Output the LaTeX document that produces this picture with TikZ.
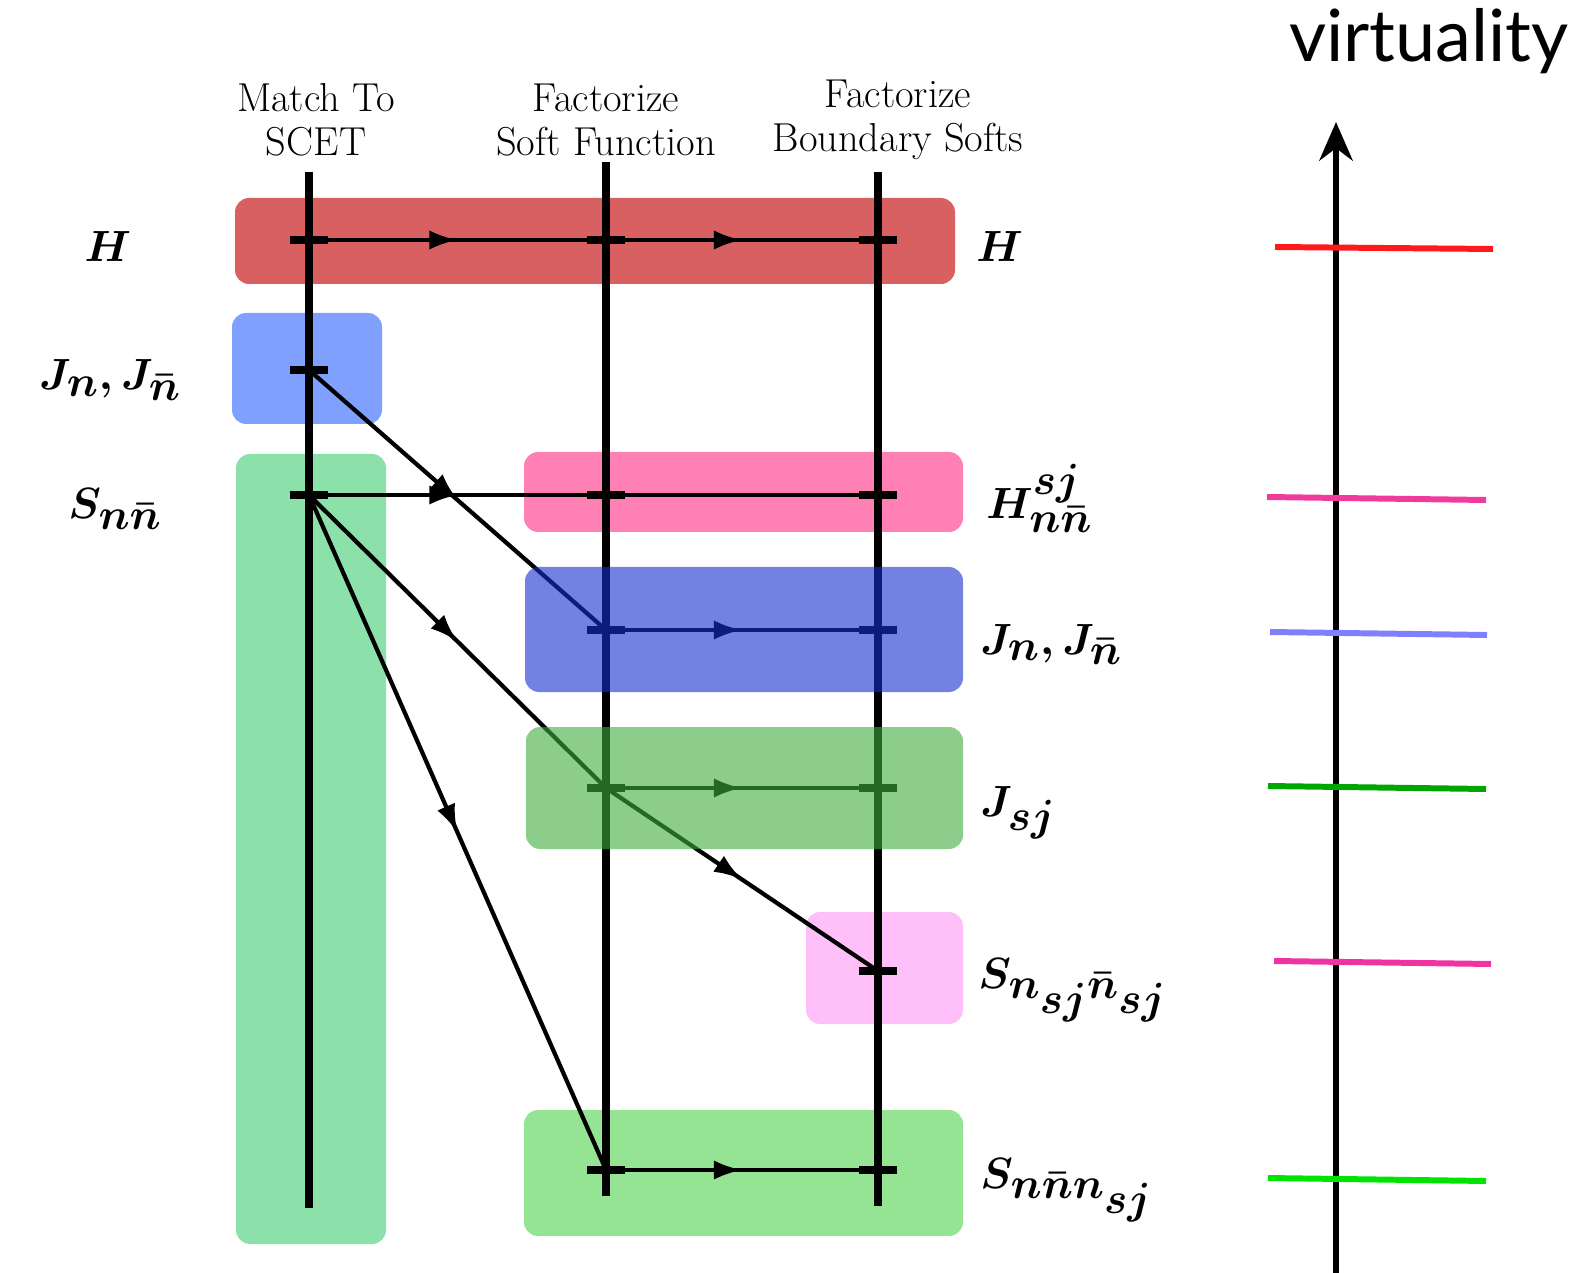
\documentclass[tikz,border=0pt]{standalone}
\usepackage{fontspec}
\newfontfamily\virtfont{Lato}
\DeclareMathSizes{44}{44}{36}{30}
\usepackage{tikz}
\usetikzlibrary{arrows.meta,decorations.markings}
\definecolor{hred}{RGB}{217,96,96}
\definecolor{jblue}{RGB}{128,160,255}
\definecolor{sgreen}{RGB}{140,225,170}
\definecolor{hpink}{RGB}{255,128,180}
\definecolor{jnblue}{RGB}{22,47,205}
\definecolor{jsgreen}{RGB}{63,172,63}
\definecolor{sspink}{RGB}{255,192,250}
\definecolor{sngreen}{RGB}{148,228,148}
\tikzset{
  box/.style      = {rounded corners=8pt},
  overbox/.style  = {rounded corners=8pt, fill opacity=0.6},
  stage/.style    = {line width=4pt, black},
  flow/.style     = {line width=2.4pt, black},
  tick/.style     = {line width=4pt, black},
  midarrow/.style = {flow, decoration={markings, mark=at position 0.5 with {\arrow{Latex[length=16pt,width=11pt]}}}, postaction={decorate}},
  hdr/.style      = {font=\fontsize{23}{25}\selectfont, align=center, inner sep=0pt},
  fac/.style      = {font=\fontsize{44}{48}\selectfont\boldmath, inner sep=0pt, anchor=base},
  facr/.style     = {fac, anchor=base west},
  axis/.style     = {line width=3.4pt, -{Stealth[length=22pt,width=19pt]}},
  level/.style    = {line width=3.4pt},
  virt/.style     = {font=\virtfont\fontsize{41}{44}\selectfont, inner sep=0pt},
}

\begin{document}
\begin{tikzpicture}[x=0.02cm,y=-0.02cm]
  \useasboundingbox (0,0) rectangle (1589,1273);

  % boxes under the lines
  \fill[box, hred]    (235,198) rectangle (955,284);
  \fill[box, jblue]   (232,313) rectangle (382,424);
  \fill[box, sgreen]  (236,454) rectangle (386,1244);
  \fill[box, hpink]   (524,452) rectangle (963,532);
  \fill[box, sspink]  (806,912) rectangle (963,1024);
  \fill[box, sngreen] (524,1110) rectangle (963,1236);

  % stages
  \coordinate (m0) at (309,172);  \coordinate (m1) at (309,1208);
  \coordinate (f0) at (606,162);  \coordinate (f1) at (606,1196);
  \coordinate (b0) at (878,172);  \coordinate (b1) at (878,1206);
  \draw[stage] (m0) -- (m1);
  \draw[stage] (f0) -- (f1);
  \draw[stage] (b0) -- (b1);

  \coordinate (hA) at (309,240);  \coordinate (hB) at (606,240);  \coordinate (hC) at (878,240);
  \coordinate (jA) at (309,370);
  \coordinate (sA) at (309,495);  \coordinate (hsB) at (606,495); \coordinate (hsC) at (878,495);
  \coordinate (jnB) at (606,630); \coordinate (jnC) at (878,630);
  \coordinate (jsB) at (606,788); \coordinate (jsC) at (878,788);
  \coordinate (ssC) at (878,971);
  \coordinate (snB) at (606,1170); \coordinate (snC) at (878,1170);

  \foreach \p in {hA,hB,hC,jA,sA,hsB,hsC,jnB,jnC,jsB,jsC,ssC,snB,snC}
    \draw[tick] (\p) ++(-19,0) -- ++(38,0);

  % running
  \draw[midarrow] (hA) -- (hB);
  \draw[midarrow] (hB) -- (hC);
  \draw[midarrow] (sA) -- (hsB);
  \draw[flow] (hsB) -- (hsC);
  \draw[midarrow] (jnB) -- (jnC);
  \draw[midarrow] (jsB) -- (jsC);
  \draw[midarrow] (snB) -- (snC);
  \draw[midarrow] (jA) -- (jnB);
  \draw[midarrow] (sA) -- (jsB);
  \draw[midarrow] (sA) -- (snB);
  \draw[midarrow] (jsB) -- (ssC);

  % boxes over the lines
  \fill[overbox, jnblue]  (525,567) rectangle (963,692);
  \fill[overbox, jsgreen] (526,727) rectangle (963,849);

  \node[hdr] (tMatch) at (316,120) {Match To\\SCET};
  \node[hdr] (tSoft)  at (606,120) {Factorize\\Soft Function};
  \node[hdr] (tBound) at (898,120) {Factorize\\Boundary Softs};

  \node[fac] (lH) at (108,262) {$H$};
  \node[fac] (lJ) at (110,390) {$J_n, J_{\bar n}$};
  \node[fac] (lS) at (115,519) {$S_{n\bar n}$};

  \node[facr] (rH)   at (976,262)  {$H$};
  \node[facr] (rHsj) at (986,519)  {$H^{sj}_{n\bar n}$};
  \node[facr] (rJ)   at (980,654)  {$J_n, J_{\bar n}$};
  \node[facr] (rJsj) at (980,816)  {$J_{sj}$};
  \node[facr] (rSs)  at (978,988)  {$S_{n_{sj}\bar n_{sj}}$};
  \node[facr] (rSn)  at (980,1188) {$S_{n\bar n n_{sj}}$};

  % virtuality scale
  \node[virt] (tVirt) at (1429,41) {virtuality};
  \coordinate (v0) at (1336,1273);
  \coordinate (v1) at (1336,122);
  \draw[axis] (v0) -- (v1);
  \foreach \c/\xa/\ya/\xb/\yb in {{red!100!orange!90}/1275/247/1493/249, {magenta!70!pink}/1267/497/1486/500,
      {blue!50}/1270/632/1487/635, {green!65!black}/1268/786/1486/789,
      {magenta!80}/1274/961/1491/964, {green!90!black}/1268/1178/1486/1181}
    \draw[level, color=\c] (\xa,\ya) -- (\xb,\yb);
\end{tikzpicture}
\end{document}
